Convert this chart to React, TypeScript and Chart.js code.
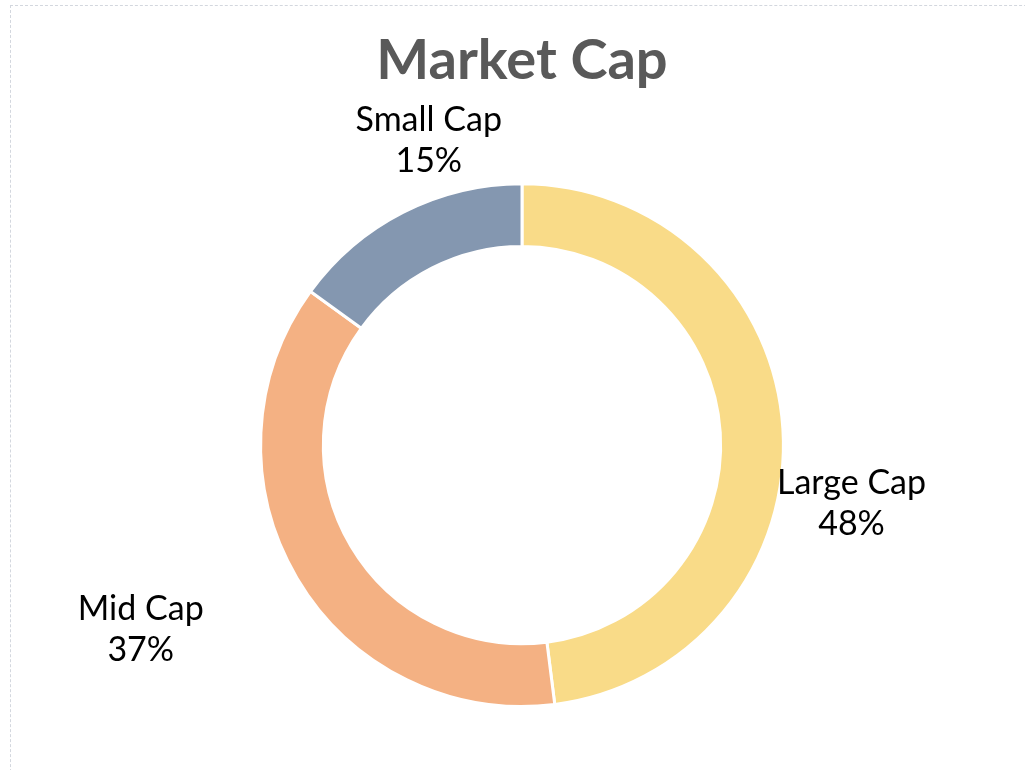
import React, { useEffect, useRef } from "react";
import { Chart, registerables } from "chart.js";

Chart.register(...registerables);

const categories = ["Large Cap", "Mid Cap", "Small Cap"];
const shares = [48, 37, 15];
const percentLabels = ["48%", "37%", "15%"];
const sliceColors = ["#F9DB88", "#F4B183", "#8497B0"];
// label placement relative to each slice's mid-angle (degrees) and outer radius
const labelAngleOffsets = [13.6, 4.8, 10];
const labelDistances = [1.28, 1.62, 1.22];

const labelPlugin = {
  id: "sliceLabels",
  afterDatasetsDraw(chart: any) {
    const ctx = chart.ctx;
    const meta = chart.getDatasetMeta(0);
    ctx.save();
    ctx.font = "34px Lato";
    ctx.fillStyle = "#000000";
    ctx.textAlign = "center";
    ctx.textBaseline = "middle";
    meta.data.forEach((arc: any, i: number) => {
      const { x, y, startAngle, endAngle, outerRadius } = arc.getProps(
        ["x", "y", "startAngle", "endAngle", "outerRadius"],
        true
      );
      const mid = (startAngle + endAngle) / 2 + (labelAngleOffsets[i] * Math.PI) / 180;
      const d = outerRadius * labelDistances[i];
      const cx = x + Math.cos(mid) * d;
      const cy = y + Math.sin(mid) * d;
      ctx.fillText(categories[i], cx, cy - 20.5);
      ctx.fillText(percentLabels[i], cx, cy + 20.5);
    });
    ctx.restore();
  },
};

export default function App() {
  const canvasRef = useRef<HTMLCanvasElement | null>(null);

  useEffect(() => {
    if (!canvasRef.current) return;
    const chart = new Chart(canvasRef.current, {
      type: "doughnut",
      data: {
        labels: categories,
        datasets: [
          {
            data: shares,
            backgroundColor: sliceColors,
            borderColor: "#FFFFFF",
            borderWidth: 3,
            hoverOffset: 0,
          },
        ],
      },
      options: {
        animation: false,
        responsive: false,
        maintainAspectRatio: false,
        cutout: "76%",
        layout: { padding: { left: 19, right: 0, top: 0, bottom: 62 } },
        plugins: {
          legend: { display: false },
          tooltip: { enabled: false },
          title: {
            display: true,
            text: "Market Cap",
            color: "#595959",
            font: { family: "Lato", size: 56, weight: "bold" },
            padding: { top: 27, bottom: 88 },
          },
        },
      },
      plugins: [labelPlugin],
    });
    return () => chart.destroy();
  }, []);

  return (
    <div
      style={{
        position: "fixed",
        left: 0,
        top: 0,
        width: 1025,
        height: 770,
        overflow: "hidden",
        background: "#FFFFFF",
      }}
    >
      <div
        style={{
          position: "absolute",
          left: 10,
          top: 5,
          width: 1100,
          height: 850,
          border: "1px dashed #D3D7DE",
        }}
      />
      <canvas
        ref={canvasRef}
        width={1025}
        height={770}
        style={{ position: "absolute", left: 0, top: 0 }}
      />
    </div>
  );
}
